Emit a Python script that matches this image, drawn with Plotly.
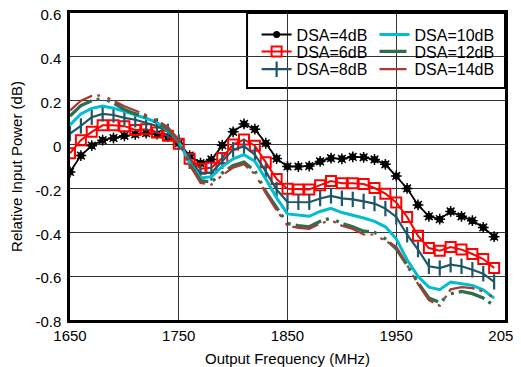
import plotly.graph_objects as go

freq = [1650, 1660, 1670, 1680, 1690, 1700, 1710, 1720, 1730, 1740,
        1750, 1760, 1770, 1780, 1790, 1800, 1810, 1820, 1830, 1840,
        1850, 1860, 1870, 1880, 1890, 1900, 1910, 1920, 1930, 1940,
        1950, 1960, 1970, 1980, 1990, 2000, 2010, 2020, 2030, 2040]

dsa4 = [-0.125, -0.05, -0.005, 0.02, 0.03, 0.04, 0.047, 0.052, 0.048, 0.036,
        0.006, -0.05, -0.085, -0.068, -0.003, 0.058, 0.094, 0.07, 0.006, -0.064,
        -0.1, -0.1, -0.098, -0.077, -0.062, -0.065, -0.056, -0.058, -0.068, -0.09,
        -0.143, -0.2, -0.275, -0.327, -0.34, -0.305, -0.327, -0.347, -0.378, -0.42]
dsa6 = [-0.04, 0.02, 0.058, 0.088, 0.088, 0.084, 0.067, 0.07, 0.055, 0.04,
        0.004, -0.065, -0.11, -0.106, -0.061, 0.0, 0.023, -0.005, -0.081, -0.157,
        -0.202, -0.205, -0.205, -0.185, -0.166, -0.176, -0.176, -0.18, -0.198, -0.224,
        -0.264, -0.33, -0.416, -0.472, -0.484, -0.467, -0.479, -0.499, -0.522, -0.563]
dsa8 = [0.05, 0.085, 0.125, 0.14, 0.135, 0.122, 0.113, 0.1, 0.085, 0.06,
        0.012, -0.076, -0.129, -0.129, -0.076, -0.023, -0.008, -0.046, -0.122, -0.205,
        -0.262, -0.263, -0.263, -0.246, -0.234, -0.245, -0.25, -0.259, -0.269, -0.292,
        -0.33, -0.411, -0.479, -0.555, -0.563, -0.548, -0.555, -0.571, -0.589, -0.626]
dsa10 = [0.09, 0.14, 0.165, 0.176, 0.166, 0.151, 0.134, 0.12, 0.1, 0.064,
         0.015, -0.084, -0.152, -0.147, -0.1, -0.065, -0.046, -0.076, -0.157, -0.243,
         -0.316, -0.323, -0.327, -0.305, -0.291, -0.31, -0.322, -0.335, -0.35, -0.375,
         -0.43, -0.525, -0.601, -0.65, -0.662, -0.627, -0.635, -0.642, -0.662, -0.70]
dsa12 = [0.13, 0.178, 0.2, 0.21, 0.19, 0.16, 0.14, 0.125, 0.1, 0.07,
         0.02, -0.09, -0.165, -0.17, -0.13, -0.095, -0.08, -0.12, -0.215, -0.29,
         -0.36, -0.37, -0.375, -0.35, -0.335, -0.36, -0.375, -0.395, -0.40, -0.43,
         -0.475, -0.55, -0.63, -0.70, -0.72, -0.68, -0.67, -0.68, -0.70, -0.735]
dsa14 = [0.155, 0.2, 0.222, 0.225, 0.2, 0.175, 0.155, 0.135, 0.11, 0.08,
         0.02, -0.09, -0.175, -0.183, -0.14, -0.105, -0.09, -0.135, -0.22, -0.30,
         -0.37, -0.38, -0.384, -0.36, -0.345, -0.37, -0.385, -0.41, -0.41, -0.44,
         -0.465, -0.55, -0.635, -0.71, -0.735, -0.66, -0.65, -0.655, -0.67, -0.70]

x_ticks = [1650, 1750, 1850, 1950, 2050]
y_ticks = [0.6, 0.4, 0.2, 0, -0.2, -0.4, -0.6, -0.8]
y_tick_text = ["0.6", "0.4", "0.2", "0", "-0.2", "-0.4", "-0.6", "-0.8"]

FONT = "Liberation Sans, Arial, sans-serif"
FS = 15
LFS = 16
DASH = "27px,5px,3px,8px,3px,5px"
fig = go.Figure()

fig.add_trace(go.Scatter(x=freq, y=dsa4, name="DSA=4dB", mode="lines+markers",
                         line=dict(color="black", width=1.8),
                         marker=dict(symbol="circle", size=7, color="black"),
                         legend="legend"))
fig.add_trace(go.Scatter(x=freq, y=dsa4, mode="markers", showlegend=False,
                         marker=dict(symbol="asterisk-open", size=9, color="black",
                                     line=dict(color="black", width=1.5)),
                         hoverinfo="skip"))
fig.add_trace(go.Scatter(x=freq, y=dsa6, name="DSA=6dB", mode="lines+markers",
                         line=dict(color="#FF0000", width=2),
                         marker=dict(symbol="square-open", size=10, color="#FF0000",
                                     line=dict(width=2)),
                         legend="legend2"))
fig.add_trace(go.Scatter(x=freq, y=dsa8, name="DSA=8dB", mode="lines+markers",
                         line=dict(color="#1E5667", width=2.2),
                         marker=dict(symbol="line-ns-open", size=11, color="#1E5667",
                                     line=dict(width=2.2, color="#1E5667")),
                         legend="legend3"))
fig.add_trace(go.Scatter(x=freq, y=dsa10, name="DSA=10dB", mode="lines",
                         line=dict(color="#00BDD0", width=3),
                         legend="legend4"))
fig.add_trace(go.Scatter(x=freq, y=dsa12, name="DSA=12dB", mode="lines",
                         line=dict(color="#2E6E4E", width=3.3, dash=DASH),
                         legend="legend5"))
fig.add_trace(go.Scatter(x=freq, y=dsa14, name="DSA=14dB", mode="lines",
                         line=dict(color="#A83A36", width=2.2, dash=DASH),
                         legend="legend6"))


def leg(x, y):
    return dict(x=x, y=y, xanchor="left", yanchor="top",
                font=dict(family=FONT, size=LFS, color="black"),
                bgcolor="rgba(255,255,255,0)", borderwidth=0)


col1, col2 = 0.429, 0.700
row1, row2, row3 = 0.985, 0.930, 0.872

# The page body adds an 8px offset; the figure is sized so the plot area
# lands at x 70..505, y 13..320 of the 521x367 window.
fig.update_layout(
    width=513, height=359,
    margin=dict(l=62, r=16, t=5, b=47),
    paper_bgcolor="white", plot_bgcolor="white",
    font=dict(family=FONT, size=FS, color="black"),
    legend=leg(col1, row1), legend2=leg(col1, row2), legend3=leg(col1, row3),
    legend4=leg(col2, row1), legend5=leg(col2, row2), legend6=leg(col2, row3),
    xaxis=dict(range=[1650, 2050], tickvals=x_ticks, showgrid=True, automargin=False,
               gridcolor="#333333", gridwidth=1, zeroline=False,
               showline=True, linecolor="black", linewidth=2.5, mirror=True,
               ticks="", tickfont=dict(size=FS), ticklabeloverflow="allow",
               title=dict(text="Output Frequency (MHz)", font=dict(size=FS), standoff=11)),
    yaxis=dict(range=[-0.8, 0.6], tickvals=y_ticks, ticktext=y_tick_text,
               showgrid=True, gridcolor="#333333", gridwidth=1, zeroline=False,
               automargin=False, ticklabelstandoff=3, ticklabeloverflow="allow",
               ticklabelshift=2,
               showline=True, linecolor="black", linewidth=2.5, mirror=True,
               ticks="", tickfont=dict(size=FS),
               title=dict(text="Relative Input Power (dB)", font=dict(size=FS), standoff=11)),
    shapes=[dict(type="rect", xref="paper", yref="paper",
                 x0=0.407, x1=1.0, y0=0.756, y1=1.0,
                 line=dict(color="black", width=2), fillcolor="white", layer="below")],
)

fig.write_html("out.html")
